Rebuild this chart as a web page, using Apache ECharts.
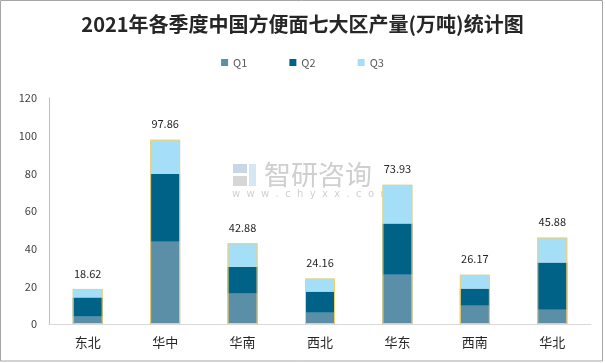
<!DOCTYPE html>
<html><head><meta charset="utf-8">
<script src="https://cdn.jsdelivr.net/npm/echarts@6/dist/echarts.min.js"></script>
<style>html,body{margin:0;padding:0;background:#fff}#c{width:605px;height:363px}</style>
</head><body><div id="c"></div>
<script>
var categories = ['东北','华中','华南','西北','华东','西南','华北'];
var q1 = [3.9, 43.7, 16.1, 6.0, 26.2, 9.7, 7.6];
var q2 = [10.2, 36.1, 14.3, 11.2, 27.1, 9.1, 25.0];
var q3 = [4.52, 18.06, 12.48, 6.96, 20.63, 7.37, 13.28];
var totals = [18.62, 97.86, 42.88, 24.16, 73.93, 26.17, 45.88];
var yTicks = [0, 20, 40, 60, 80, 100, 120];

var chart = echarts.init(document.getElementById('c'), null, {renderer:'canvas'});
var font = '"Microsoft YaHei","Noto Sans CJK SC",sans-serif';
chart.setOption({
  animation:false,
  backgroundColor:'#fff',
  title:{text:'2021年各季度中国方便面七大区产量(万吨)统计图', left:'center', top:9,
    textStyle:{fontSize:20, fontWeight:'bold', color:'#262626', fontFamily:'"Noto Sans CJK SC",serif'}},
  legend:{data:['Q1','Q2','Q3'], top:52, left:'center', itemWidth:7, itemHeight:7, itemGap:42,
    icon:'rect', textStyle:{color:'#595959', fontSize:11, fontFamily:font}},
  grid:{left:49, right:14, top:98, bottom:39},
  xAxis:{type:'category', data:categories,
    axisLine:{lineStyle:{color:'#d9d9d9'}}, axisTick:{show:false},
    axisLabel:{color:'#262626', fontSize:13, margin:12, fontFamily:font}},
  yAxis:{type:'value', min:yTicks[0], max:yTicks[yTicks.length-1], interval:20,
    axisLine:{show:true, lineStyle:{color:'#bfbfbf'}}, axisTick:{show:false}, splitLine:{show:false},
    axisLabel:{color:'#404040', fontSize:11, margin:12, fontFamily:font}},
  series:[
    {name:'Q1', type:'bar', stack:'a', data:q1, barWidth:30, itemStyle:{color:'#5b8fa8'}},
    {name:'Q2', type:'bar', stack:'a', data:q2, barWidth:30, itemStyle:{color:'#006287'}},
    {name:'Q3', type:'bar', stack:'a', data:q3, barWidth:30, itemStyle:{color:'#a5def7'}},
    {name:'合计', type:'bar', data:totals, barWidth:30, barGap:'-100%', z:5,
      itemStyle:{color:'rgba(0,0,0,0)', borderColor:'#f7cf6b', borderWidth:1},
      label:{show:true, position:'top', distance:10, color:'#262626', fontSize:11, fontFamily:font}}
  ],
  graphic:[
    {type:'rect', shape:{x:0.5, y:0.5, width:602, height:360.5}, style:{fill:null, stroke:'#a6a6a6', lineWidth:1}, z:100},
    {type:'text', left:264, top:161, style:{text:'智研咨询', font:'27px "Noto Sans CJK SC"', fill:'#cfcfcf'}, z:0},
    {type:'text', left:232, top:189, style:{text:'w  w  w  .  c  h  y  x  x  .  c  o  m', font:'10px "DejaVu Sans"', fill:'#d0d0d0'}, z:0},
    {type:'rect', shape:{x:233, y:164, width:14, height:9}, style:{fill:'#c9d6e8'}, z:0},
    {type:'rect', shape:{x:249, y:164, width:7, height:22}, style:{fill:'#d7e6f4'}, z:0},
    {type:'rect', shape:{x:233, y:176, width:14, height:10}, style:{fill:'#d6d6d6'}, z:0}
  ]
});
</script></body></html>
